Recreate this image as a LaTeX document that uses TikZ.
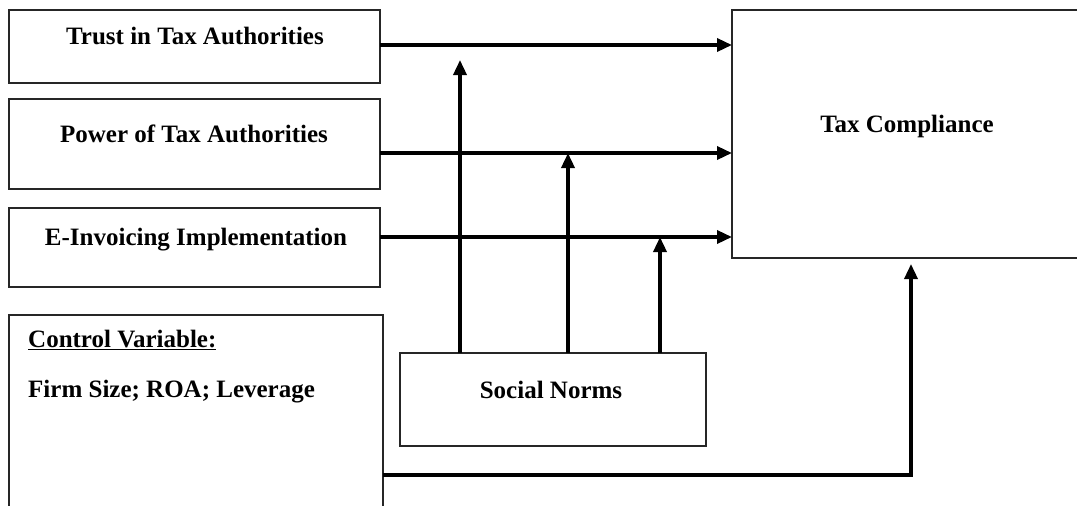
\documentclass[tikz,border=0pt]{standalone}
\usepackage{fontspec}
\setmainfont{Liberation Serif}
\usetikzlibrary{arrows.meta}
\begin{document}
\begin{tikzpicture}[x=1pt,y=-1pt,
  box/.style={draw=black!85, line width=1.4pt, fill=white, inner sep=0pt, outer sep=0pt},
  lbl/.style={font=\fontsize{25}{28}\selectfont\bfseries, inner sep=0pt, anchor=base},
  lbll/.style={font=\fontsize{25}{28}\selectfont\bfseries, inner sep=0pt, anchor=base west},
  arr/.style={line width=3.4pt, -{Triangle[length=15pt,width=13pt]}},
  ln/.style={line width=3.4pt}]
\useasboundingbox (0,0) rectangle (1077,506);
\clip (0,0) rectangle (1077,506);
% boxes
\node[box, minimum width=371pt, minimum height=73pt] (trust) at (194.5,46.5) {};
\node[box, minimum width=371pt, minimum height=90pt] (power) at (194.5,144) {};
\node[box, minimum width=371pt, minimum height=79pt] (einv) at (194.5,247.5) {};
\node[box, minimum width=374pt, minimum height=200pt] (ctrl) at (196,415) {};
\node[box, minimum width=306pt, minimum height=93pt] (sn) at (553,399.5) {};
\node[box, minimum width=358pt, minimum height=248pt] (tc) at (911,134) {};
% texts
\node[lbl] (trust-t) at (195,44) {Trust in Tax Authorities};
\node[lbl] (power-t) at (194,142) {Power of Tax Authorities};
\node[lbl] (einv-t) at (196,245) {E-Invoicing Implementation};
\node[lbl] (tc-t) at (907,132) {Tax Compliance};
\node[lbl] (sn-t) at (551,398) {Social Norms};
\node[lbll] (ctrl-t1) at (28,347) {\underline{Control Variable:}};
\node[lbll] (ctrl-t2) at (28,397) {Firm Size; ROA; Leverage};
% horizontal arrows
\draw[arr] ([yshift=1.5pt]trust.east) -- ([yshift=1.5pt]trust.east -| tc.west);
\draw[arr] ([yshift=-9pt]power.east) -- ([yshift=-9pt]power.east -| tc.west);
\draw[arr] ([yshift=10.5pt]einv.east) -- ([yshift=10.5pt]einv.east -| tc.west);
% moderating arrows
\coordinate (m1) at (460,60);
\coordinate (m2) at (568,153);
\coordinate (m3) at (660,237);
\draw[arr] (sn.north -| m1) -- (m1);
\draw[arr] (sn.north -| m2) -- (m2);
\draw[arr] (sn.north -| m3) -- (m3);
% control arrow
\coordinate (c1) at (911,475);
\coordinate (c2) at (911,264);
\draw[arr] (ctrl.east |- c1) -- (c1) -- (c2);
\end{tikzpicture}
\end{document}
